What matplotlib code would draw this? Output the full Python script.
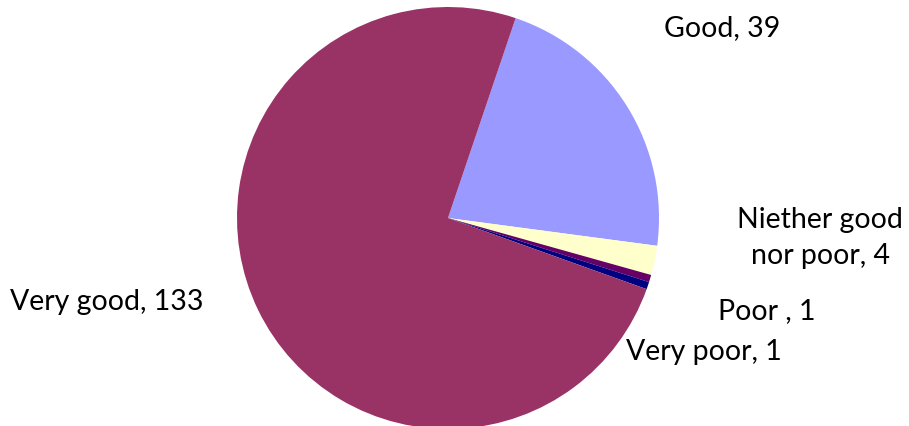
import matplotlib
matplotlib.use('Agg')
import matplotlib.pyplot as plt

# answer counts, in drawing order (clockwise from the "Good" wedge)
categories = ['Good', 'Niether good\nnor poor', 'Poor ', 'Very poor', 'Very good']
counts = [39, 4, 1, 1, 133]
colors = ['#9999FF', '#FFFFCC', '#660066', '#000080', '#993366']

# where each label sits, in pie units (radius = 1)
label_xy = [(1.30, 0.90), (1.765, -0.095), (1.51, -0.44), (1.215, -0.635), (-1.615, -0.40)]

plt.rcParams['font.family'] = ['Lato', 'DejaVu Sans']

W, H, dpi = 909, 426, 100
fig = plt.figure(figsize=(W / dpi, H / dpi), dpi=dpi)
cx, cy, r = 448, 208, 211
ax = fig.add_axes([(cx - r) / W, (cy - r) / H, 2 * r / W, 2 * r / H])

ax.pie(counts, colors=colors, startangle=90 - 18.7, counterclock=False,
       wedgeprops=dict(linewidth=0))
ax.set_xlim(-1, 1)
ax.set_ylim(-1, 1)
ax.set_aspect('equal')
ax.axis('off')

for name, n, (x, y) in zip(categories, counts, label_xy):
    ax.text(x, y, '%s, %d' % (name, n), ha='center', va='center',
            fontsize=20.5, color='black', linespacing=1.45, clip_on=False)

fig.savefig('out.png', dpi=dpi)
